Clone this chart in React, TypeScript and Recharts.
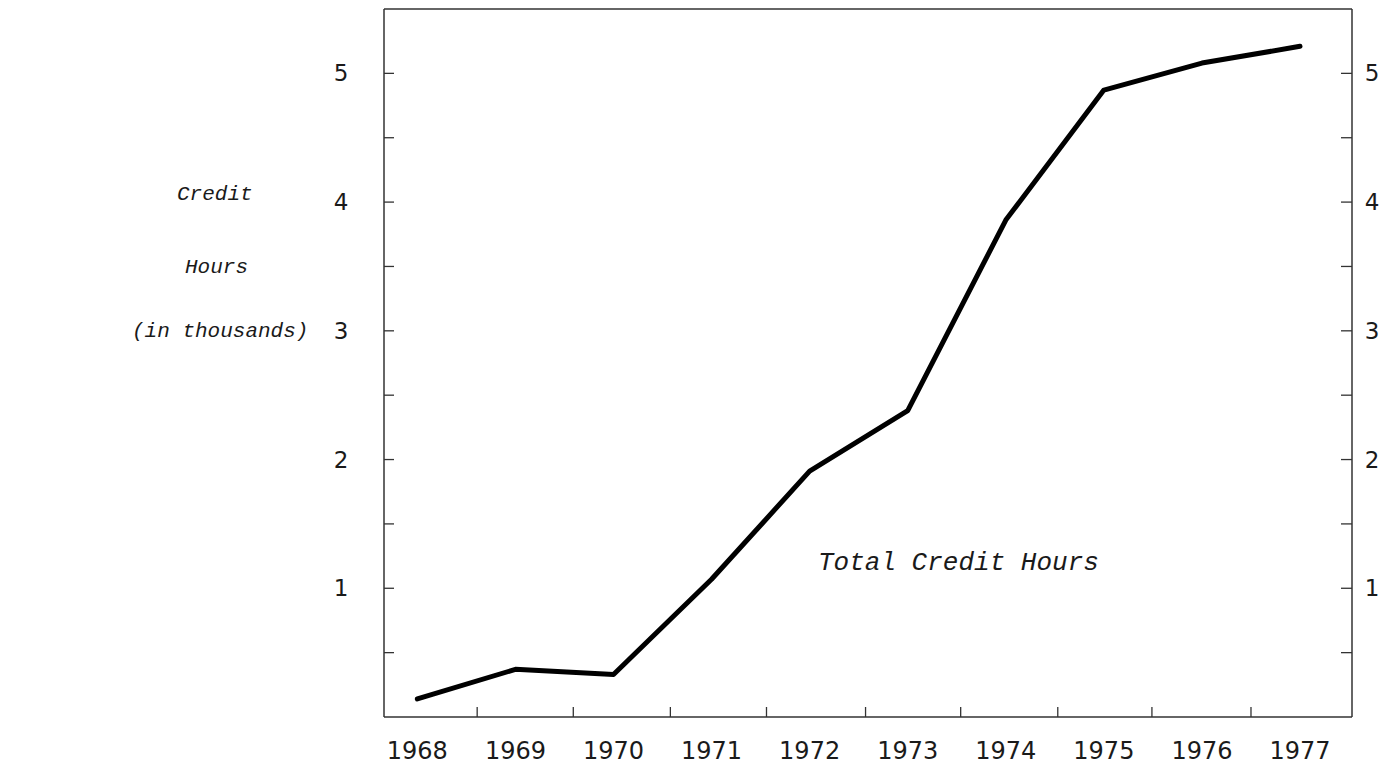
import { Line, LineChart, XAxis, YAxis } from "recharts";

// values (thousands of credit hours)
const years = [1968, 1969, 1970, 1971, 1972, 1973, 1974, 1975, 1976, 1977];
const creditHours = [0.14, 0.37, 0.33, 1.07, 1.91, 2.38, 3.86, 4.87, 5.08, 5.21];

// minor marks on the frame (hand-drawn, they drift a bit from the years)
const yTicks = [0.5, 1, 1.5, 2, 2.5, 3, 3.5, 4, 4.5, 5];
const xFrameTicks = [1968.61, 1969.59, 1970.58, 1971.56, 1972.57, 1973.54, 1974.53, 1975.49, 1976.5];
const yLabels = [1, 2, 3, 4, 5];

const X_DOMAIN: [number, number] = [1967.66, 1977.53];
const Y_DOMAIN: [number, number] = [0, 5.5];

const INK = "#1a1a1a";
const FRAME = "#333";
const TICK_FONT = "'DejaVu Sans', sans-serif";
const TYPE_FONT = "'Liberation Mono', 'DejaVu Sans Mono', monospace";

const data = years.map((year, i) => ({ year, hours: creditHours[i] }));
const bottomTicks = [...years, ...xFrameTicks].sort((a, b) => a - b);

function LeftTick(props: any) {
  const { x, y, payload } = props;
  const v = payload.value as number;
  return (
    <g>
      <line x1={x} x2={x + 10} y1={y} y2={y} stroke={FRAME} strokeWidth={1.3} />
      {yLabels.includes(v) ? (
        <text x={x - 43} y={y} textAnchor="middle" dominantBaseline="central" fontSize={23} fontFamily={TICK_FONT} fill={INK}>
          {v}
        </text>
      ) : null}
    </g>
  );
}

function RightTick(props: any) {
  const { x, y, payload } = props;
  const v = payload.value as number;
  return (
    <g>
      <line x1={x - 11} x2={x} y1={y} y2={y} stroke={FRAME} strokeWidth={1.3} />
      {yLabels.includes(v) ? (
        <text x={x + 20} y={y} textAnchor="middle" dominantBaseline="central" fontSize={23} fontFamily={TICK_FONT} fill={INK}>
          {v}
        </text>
      ) : null}
    </g>
  );
}

function BottomTick(props: any) {
  const { x, y, payload } = props;
  const v = payload.value as number;
  if (Number.isInteger(v)) {
    return (
      <text x={x} y={y + 34} textAnchor="middle" dominantBaseline="central" fontSize={24} fontFamily={TICK_FONT} fill={INK}>
        {v}
      </text>
    );
  }
  return <line x1={x} x2={x} y1={y - 10} y2={y} stroke={FRAME} strokeWidth={1.3} />;
}

function TopTick(props: any) {
  const { x, y } = props;
  return <line x1={x} x2={x} y1={y} y2={y + 12} stroke={FRAME} strokeWidth={1.3} />;
}

export default function App() {
  return (
    <div style={{ position: "absolute", left: 0, top: 0, width: 1382, height: 767, background: "#fff" }}>
      <LineChart width={1382} height={767} data={data} margin={{ top: 8, right: 0, bottom: 0, left: 0 }}>
        <XAxis
          dataKey="year"
          type="number"
          domain={X_DOMAIN}
          allowDataOverflow
          ticks={bottomTicks}
          interval={0}
          height={50}
          tickSize={0}
          tickMargin={0}
          tickLine={false}
          axisLine={{ stroke: FRAME, strokeWidth: 1.5 }}
          tick={BottomTick}
        />
        <XAxis
          xAxisId="top"
          orientation="top"
          type="number"
          domain={X_DOMAIN}
          allowDataOverflow
          ticks={xFrameTicks}
          interval={0}
          height={1}
          tickSize={0}
          tickMargin={0}
          tickLine={false}
          axisLine={{ stroke: FRAME, strokeWidth: 1.5 }}
          tick={TopTick}
        />
        <YAxis
          type="number"
          domain={Y_DOMAIN}
          allowDataOverflow
          ticks={yTicks}
          interval={0}
          width={384}
          tickSize={0}
          tickMargin={0}
          tickLine={false}
          axisLine={{ stroke: FRAME, strokeWidth: 1.5 }}
          tick={LeftTick}
        />
        <YAxis
          yAxisId="right"
          orientation="right"
          type="number"
          domain={Y_DOMAIN}
          allowDataOverflow
          ticks={yTicks}
          interval={0}
          width={30}
          tickSize={0}
          tickMargin={0}
          tickLine={false}
          axisLine={{ stroke: FRAME, strokeWidth: 1.5 }}
          tick={RightTick}
        />
        <Line
          dataKey="hours"
          type="linear"
          stroke="#000"
          strokeWidth={5}
          strokeLinejoin="round"
          strokeLinecap="round"
          dot={false}
          activeDot={false}
          isAnimationActive={false}
        />
      </LineChart>
      <svg width={1382} height={767} style={{ position: "absolute", left: 0, top: 0, pointerEvents: "none" }}>
        <g fontFamily={TYPE_FONT} fontStyle="italic" fill={INK}>
          <text x={177} y={200} fontSize={21}>Credit</text>
          <text x={185} y={273} fontSize={21}>Hours</text>
          <text x={132} y={337} fontSize={21}>(in thousands)</text>
          <text x={818} y={570} fontSize={26}>Total Credit Hours</text>
        </g>
      </svg>
    </div>
  );
}
